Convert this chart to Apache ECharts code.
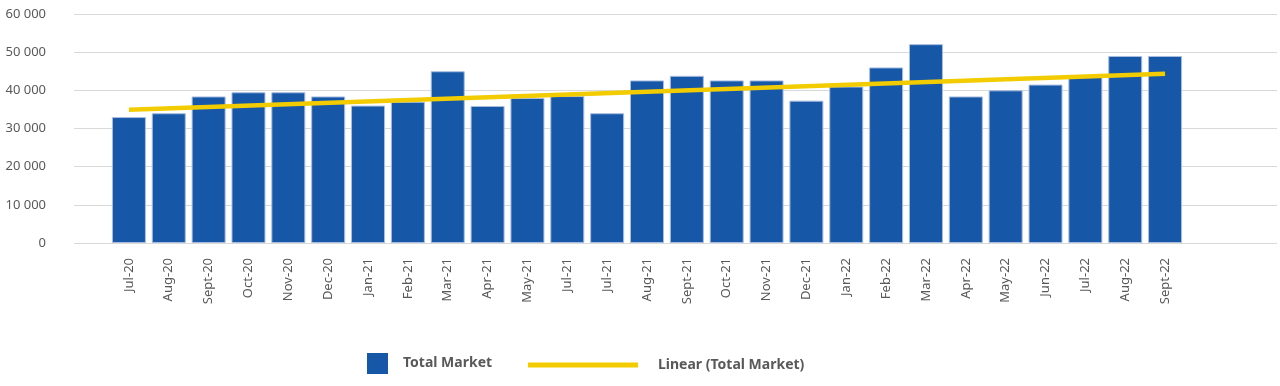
<!DOCTYPE html>
<html>
<head>
<meta charset="utf-8">
<script src="https://cdn.jsdelivr.net/npm/echarts@6/dist/echarts.min.js"></script>
<style>
  html, body { margin: 0; padding: 0; background: #ffffff; }
  #chart { width: 1280px; height: 386px; }
</style>
</head>
<body>
<div id="chart"></div>
<script>
// ---- data ----
const categories = ['Jul-20','Aug-20','Sept-20','Oct-20','Nov-20','Dec-20','Jan-21','Feb-21','Mar-21','Apr-21','May-21','Jul-21','Jul-21','Aug-21','Sept-21','Oct-21','Nov-21','Dec-21','Jan-22','Feb-22','Mar-22','Apr-22','May-22','Jun-22','Jul-22','Aug-22','Sept-22'];
const totalMarket = [33000,34000,38400,39500,39500,38400,36000,37000,45000,35900,38000,38500,34000,42600,43800,42600,42600,37300,41000,46000,52100,38400,40000,41500,43500,49000,49000];
// linear trend line end values
const trendStart = 34900;
const trendEnd = 44350;
const yTicks = [0,10000,20000,30000,40000,50000,60000];

const FONT = '"Noto Sans", Lato, sans-serif';
const GREY = '#595959';

const trendData = categories.map((c, i) => i === 0 ? trendStart : (i === categories.length - 1 ? trendEnd : null));

const fmt = v => String(v).replace(/\B(?=(\d{3})+(?!\d))/g, ' ');

const chart = echarts.init(document.getElementById('chart'), null, { renderer: 'canvas' });
chart.setOption({
  animation: false,
  backgroundColor: '#ffffff',
  grid: [
    { left: 74, right: 3, top: 14, bottom: 143, containLabel: false },
    { left: 109, right: 95, top: 14, bottom: 143, containLabel: false }
  ],
  xAxis: [
    { gridIndex: 0, type: 'value', show: false, min: 0, max: 1 },
    {
      gridIndex: 1, type: 'category', data: categories,
      axisLine: { show: false }, axisTick: { show: false },
      axisLabel: { rotate: 90, margin: 15, color: GREY, fontFamily: FONT, fontSize: 13, interval: 0 }
    }
  ],
  yAxis: [
    {
      gridIndex: 0, type: 'value', min: yTicks[0], max: yTicks[yTicks.length - 1], interval: yTicks[1] - yTicks[0],
      axisLine: { show: false }, axisTick: { show: false },
      splitLine: { show: true, lineStyle: { color: '#d9d9d9', width: 1 } },
      axisLabel: { margin: 28, color: GREY, fontFamily: FONT, fontSize: 13, formatter: fmt }
    },
    {
      gridIndex: 1, type: 'value', min: yTicks[0], max: yTicks[yTicks.length - 1], interval: yTicks[1] - yTicks[0],
      show: false, splitLine: { show: false }
    }
  ],
  legend: [
    {
      data: [{ name: 'Total Market', icon: 'rect', itemStyle: { borderWidth: 0 } }],
      left: 367, top: 353, padding: 0, itemWidth: 21, itemHeight: 21,
      textStyle: { color: GREY, fontFamily: FONT, fontSize: 14, fontWeight: 'bold', padding: [0, 0, 0, 10] }
    },
    {
      data: [{ name: 'Linear (Total Market)', icon: 'rect' }],
      left: 528, top: 358, padding: 0, itemWidth: 110, itemHeight: 5,
      textStyle: { color: GREY, fontFamily: FONT, fontSize: 14, fontWeight: 'bold', padding: [0, 0, 0, 15] }
    }
  ],
  series: [
    {
      name: 'Total Market', type: 'bar', xAxisIndex: 1, yAxisIndex: 1,
      data: totalMarket, barWidth: 34,
      itemStyle: { color: '#1657A8', borderColor: '#a8bde0', borderWidth: 1 }
    },
    {
      name: 'Linear (Total Market)', type: 'line', xAxisIndex: 1, yAxisIndex: 1,
      data: trendData, connectNulls: true, showSymbol: false, symbol: 'none',
      lineStyle: { color: '#F2CC00', width: 4.5 },
      itemStyle: { color: '#F2CC00' }, z: 5
    }
  ]
});
</script>
</body>
</html>
